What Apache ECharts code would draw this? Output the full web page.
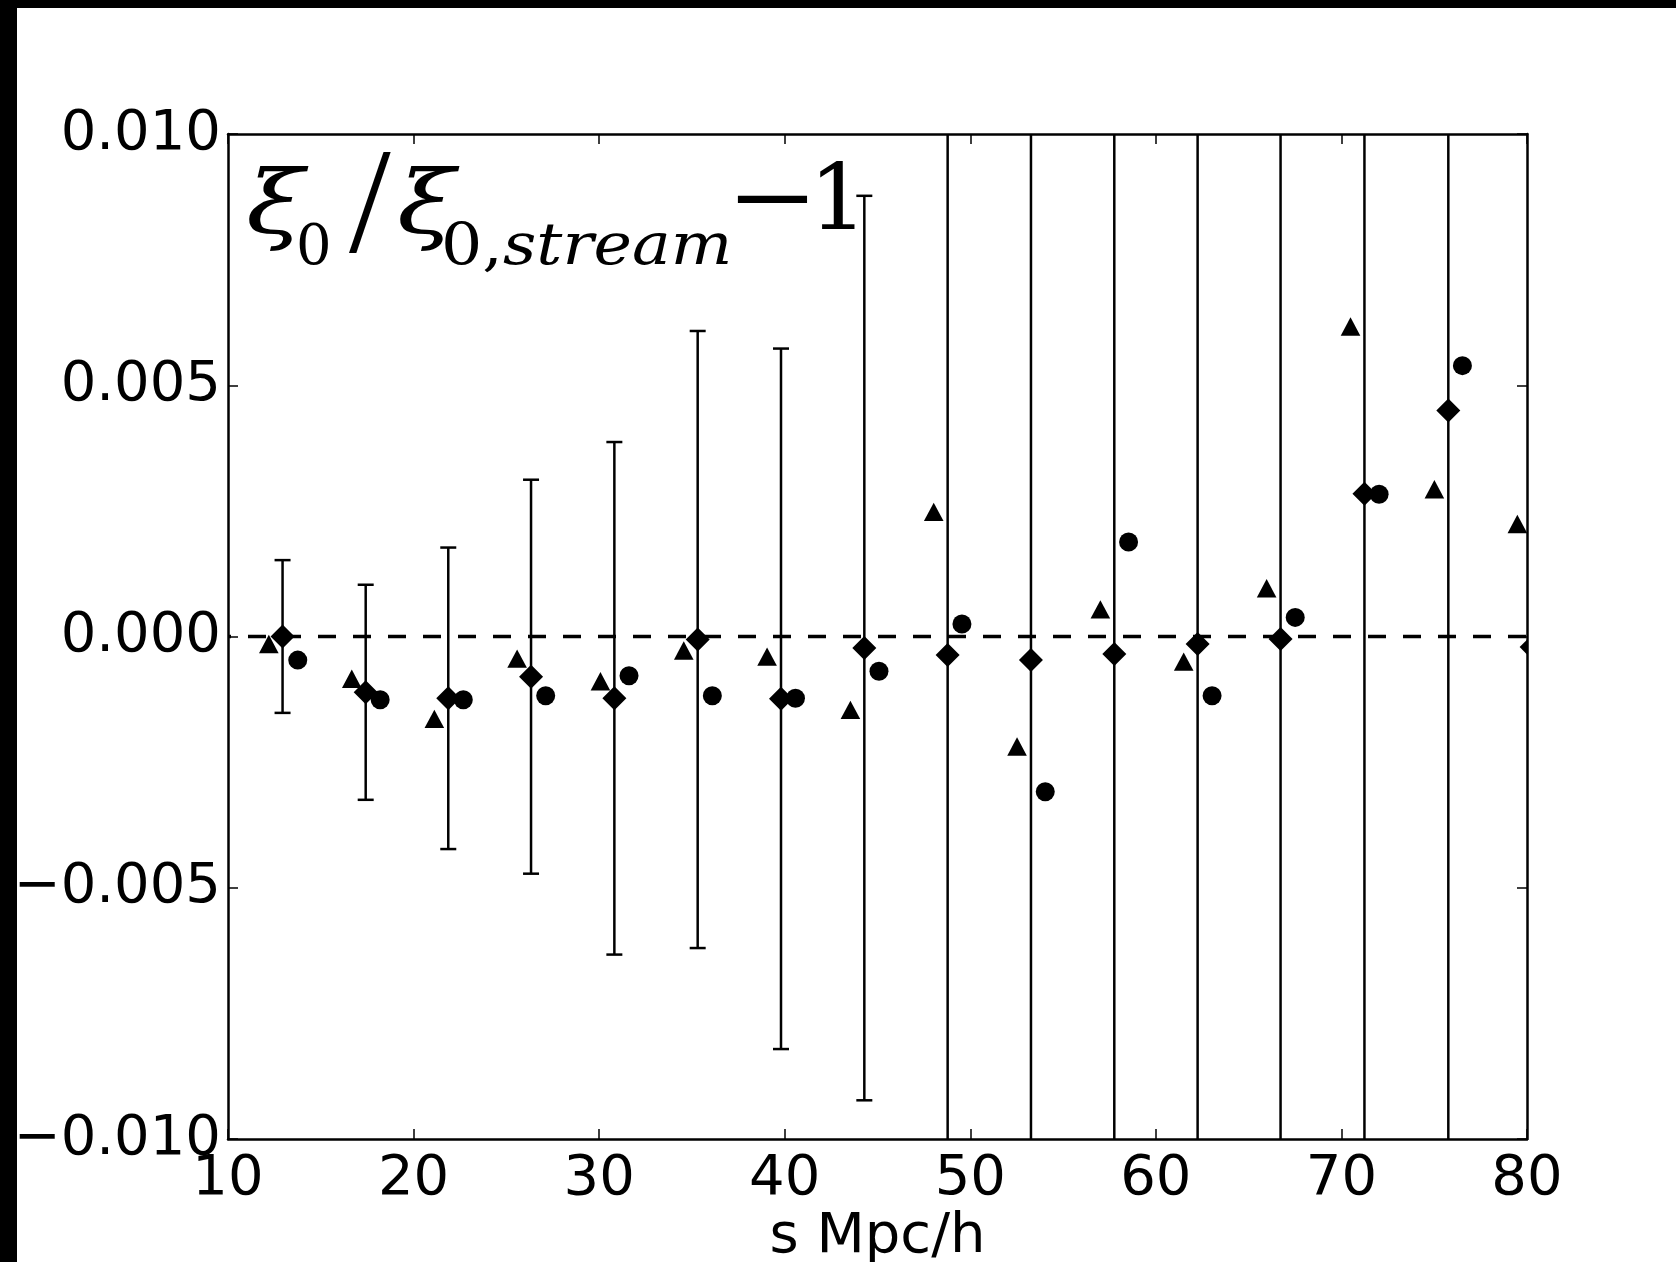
<!DOCTYPE html>
<html>
<head>
<meta charset="utf-8">
<title>xi0 / xi0,stream - 1</title>
<script src="https://cdn.jsdelivr.net/npm/echarts@6/dist/echarts.min.js"></script>
<style>
  html, body { margin: 0; padding: 0; background: #ffffff; }
  #chart { width: 1676px; height: 1262px; }
</style>
</head>
<body>
<div id="chart"></div>
<script>
// Separation bins (s in Mpc/h) for each estimator
const diamondX  = [12.94, 17.42, 21.87, 26.33, 30.82, 35.31, 39.80, 44.29, 48.78, 53.27, 57.76, 62.25, 66.72, 71.24, 75.76, 80.25];
const triangleX = [12.20, 16.67, 21.12, 25.58, 30.07, 34.56, 39.05, 43.54, 48.03, 52.52, 57.01, 61.50, 65.97, 70.49, 75.01, 79.48];
const circleX   = [13.76, 18.20, 22.68, 27.12, 31.61, 36.10, 40.58, 45.08, 49.55, 54.04, 58.53, 63.03, 67.51, 72.03, 76.52];

// Monopole ratio minus one
const diamondY  = [0.00000, -0.00111, -0.00123, -0.00080, -0.00123, -0.00006, -0.00124, -0.00023, -0.00037, -0.00047, -0.00035, -0.00015, -0.00005, 0.00284, 0.00450, -0.00021];
const diamondErr = [0.00152, 0.00214, 0.00300, 0.00392, 0.00510, 0.00614, 0.00697, 0.00900, 0.0125, 0.0155, 0.0190, 0.0230, 0.0280, 0.0330, 0.0400, 0.0470];
const triangleY = [-0.00015, -0.00084, -0.00164, -0.00044, -0.00089, -0.00028, -0.00040, -0.00146, 0.00248, -0.00219, 0.00054, -0.00050, 0.00096, 0.00617, 0.00293, 0.00224];
const circleY   = [-0.00047, -0.00126, -0.00126, -0.00118, -0.00078, -0.00118, -0.00123, -0.00069, 0.00025, -0.00309, 0.00188, -0.00118, 0.00038, 0.00283, 0.00539];

// Axes
const xMin = 10, xMax = 80, xStep = 10;
const yMin = -0.010, yMax = 0.010, yStep = 0.005;
const yTickLabels = ['\u22120.010', '\u22120.005', '0.000', '0.005', '0.010'];
const xName = 's Mpc/h';

const sansFont = '"DejaVu Sans", sans-serif';
const serifFont = '"DejaVu Serif", serif';
const thinSerifFont = '"Liberation Serif", serif';

const pairs = (xs, ys) => xs.map((x, i) => [x, ys[i]]);

function inPlotX(params, px) {
  const cs = params.coordSys;
  return px >= cs.x - 0.5 && px <= cs.x + cs.width + 0.5;
}

// error bars with caps, trimmed to the plot frame
function renderErrorBar(params, api) {
  const x = api.value(0), y = api.value(1), e = api.value(2);
  const hi = api.coord([x, y + e]);
  const lo = api.coord([x, y - e]);
  const cs = params.coordSys;
  if (!inPlotX(params, hi[0])) return null;
  const top = Math.max(hi[1], cs.y);
  const bot = Math.min(lo[1], cs.y + cs.height);
  const style = { stroke: '#000', lineWidth: 2.5, fill: null };
  const children = [{ type: 'line', shape: { x1: hi[0], y1: top, x2: hi[0], y2: bot }, style }];
  const capHalf = 8;
  if (hi[1] >= cs.y) children.push({ type: 'line', shape: { x1: hi[0] - capHalf, y1: hi[1], x2: hi[0] + capHalf, y2: hi[1] }, style });
  if (lo[1] <= cs.y + cs.height) children.push({ type: 'line', shape: { x1: lo[0] - capHalf, y1: lo[1], x2: lo[0] + capHalf, y2: lo[1] }, style });
  return { type: 'group', children };
}

function markerRenderer(kind) {
  return function (params, api) {
    const c = api.coord([api.value(0), api.value(1)]);
    const cx = c[0], cy = c[1];
    const style = { fill: '#000', stroke: null };
    if (kind === 'diamond') {
      const r = 12;
      return { type: 'polygon', shape: { points: [[cx, cy - r], [cx + r, cy], [cx, cy + r], [cx - r, cy]] }, style };
    }
    if (kind === 'triangle') {
      const hw = 9.8, hh = 9.2;
      return { type: 'polygon', shape: { points: [[cx, cy - hh], [cx + hw, cy + hh], [cx - hw, cy + hh]] }, style };
    }
    return { type: 'circle', shape: { cx, cy, r: 9.5 }, style };
  };
}

const frameLine = { show: true, onZero: false, lineStyle: { color: '#000', width: 2.5 } };
const innerTick = { show: true, inside: true, length: 10, lineStyle: { color: '#000', width: 1.5 } };

const chart = echarts.init(document.getElementById('chart'), null, { renderer: 'canvas' });

const serifText = (text, x, y, font, sx) => ({
  type: 'text', z: 10, x: x, y: y, scaleX: sx || 1,
  style: { text: text, x: 0, y: 0, font: font, fill: '#000', textVerticalAlign: 'middle' }
});

chart.setOption({
  animation: false,
  backgroundColor: '#ffffff',
  grid: { left: 228, top: 134, width: 1299, height: 1005, containLabel: false, outerBoundsMode: 'none' },
  xAxis: [
    {
      type: 'value', min: xMin, max: xMax, interval: xStep, position: 'bottom',
      axisLine: frameLine, axisTick: innerTick, splitLine: { show: false },
      axisLabel: { show: true, margin: 12, color: '#000', fontSize: 56, fontFamily: sansFont,
                   showMinLabel: true, showMaxLabel: true, hideOverlap: false },
      name: xName, nameLocation: 'middle', nameGap: 70, nameMoveOverlap: false,
      nameTextStyle: { color: '#000', fontSize: 56, fontFamily: sansFont }
    },
    {
      type: 'value', min: xMin, max: xMax, interval: xStep, position: 'top',
      axisLine: frameLine, axisTick: innerTick, splitLine: { show: false }, axisLabel: { show: false }
    }
  ],
  yAxis: [
    {
      type: 'value', min: yMin, max: yMax, interval: yStep, position: 'left',
      axisLine: frameLine, axisTick: innerTick, splitLine: { show: false },
      axisLabel: {
        show: true, margin: 7, color: '#000', fontSize: 56, fontFamily: sansFont,
        showMinLabel: true, showMaxLabel: true, hideOverlap: false,
        formatter: v => yTickLabels[Math.round((v - yMin) / yStep)]
      }
    },
    {
      type: 'value', min: yMin, max: yMax, interval: yStep, position: 'right',
      axisLine: frameLine, axisTick: innerTick, splitLine: { show: false }, axisLabel: { show: false }
    }
  ],
  series: [
    {
      name: 'error', type: 'custom', clip: true, xAxisIndex: 0, yAxisIndex: 0,
      data: diamondX.map((x, i) => [x, diamondY[i], diamondErr[i]]),
      encode: { x: 0, y: 1 },
      renderItem: renderErrorBar,
      markLine: {
        silent: true, symbol: ['none', 'none'], label: { show: false },
        lineStyle: { color: '#000', width: 3.3, type: [18, 17], dashOffset: 15 },
        data: [{ yAxis: 0 }]
      },
      z: 2
    },
    {
      name: 'diamond', type: 'custom', clip: true,
      data: pairs(diamondX, diamondY), encode: { x: 0, y: 1 },
      renderItem: markerRenderer('diamond'), z: 3
    },
    {
      name: 'triangle', type: 'custom', clip: true,
      data: pairs(triangleX, triangleY), encode: { x: 0, y: 1 },
      renderItem: markerRenderer('triangle'), z: 3
    },
    {
      name: 'circle', type: 'custom', clip: true,
      data: pairs(circleX, circleY), encode: { x: 0, y: 1 },
      renderItem: markerRenderer('circle'), z: 3
    }
  ],
  graphic: [
    // panel label: xi_0 / xi_{0,stream} - 1
    serifText('\u03BE', 246, 210, 'italic 88px ' + serifFont, 1.2),
    serifText('0', 296, 249, '56px ' + serifFont),
    serifText('/', 349, 213, '150px ' + thinSerifFont),
    serifText('\u03BE', 397, 210, 'italic 88px ' + serifFont, 1.2),
    {
      type: 'text', z: 10, x: 441, y: 249, scaleX: 1.12,
      style: {
        text: '{n|0,}{i|stream}', x: 0, y: 0, textVerticalAlign: 'middle',
        rich: {
          n: { font: '58px ' + serifFont, fill: '#000' },
          i: { font: 'italic 58px ' + serifFont, fill: '#000' }
        }
      }
    },
    serifText('\u2212', 726, 204, '92px ' + serifFont, 1.2),
    serifText('1', 809, 205, '92px ' + serifFont),
    // dark border strips along the top and left edges
    { type: 'rect', z: 100, shape: { x: 0, y: 0, width: 17, height: 1262 }, style: { fill: '#000' } },
    { type: 'rect', z: 100, shape: { x: 0, y: 0, width: 1676, height: 8 }, style: { fill: '#000' } }
  ]
});
</script>
</body>
</html>
